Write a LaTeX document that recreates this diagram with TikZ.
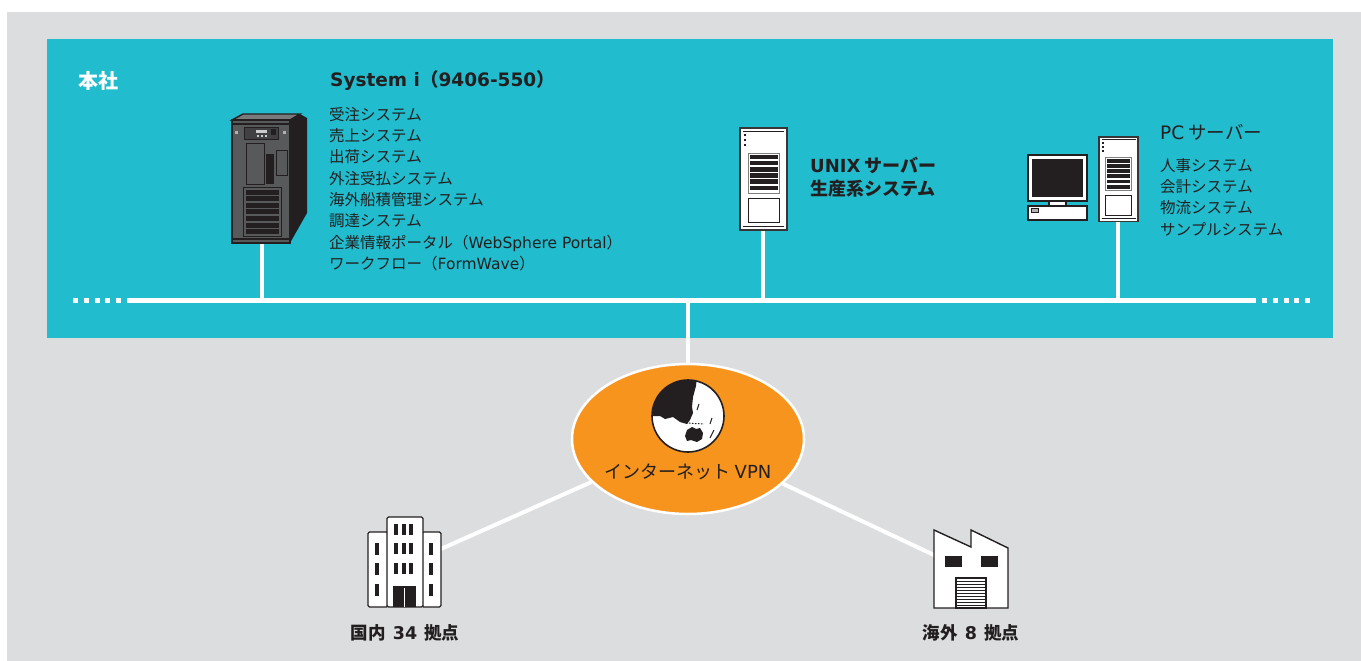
\documentclass[tikz,border=0pt]{standalone}
\usepackage{fontspec}
\setmainfont{Noto Sans CJK JP}
\newfontfamily\latinfont{DejaVu Sans}
\newcommand{\eng}[1]{{\latinfont #1}}
\usetikzlibrary{positioning,shapes.geometric}

\definecolor{bggray}{HTML}{DCDDDF}
\definecolor{hqteal}{HTML}{21BCCD}
\definecolor{vpnorange}{HTML}{F7941D}
\definecolor{ink}{HTML}{231F20}
\definecolor{casegray}{HTML}{58595B}
\definecolor{panelgray}{HTML}{414042}

\tikzset{
    wire/.style={white, line width=4.5pt},
    bus dots/.style={white, line width=5pt, dash pattern=on 5pt off 5.8pt},
    outline/.style={draw=ink, line width=1.4pt},
    txt/.style={ink, inner sep=0pt, align=left},
    heading/.style={txt, font=\bfseries\fontsize{18.5}{22}\selectfont},
    subhead/.style={txt, font=\bfseries\fontsize{18}{23}\selectfont},
    items/.style={txt, font=\fontsize{15.5}{21.3}\selectfont},
    site/.style={txt, font=\bfseries\fontsize{17.5}{19}\selectfont}
}

% tower server, #1 = top left corner, #2 = scale
\newcommand{\towericon}[2]{%
  \begin{scope}[shift={#1}, scale=#2]
    \draw[fill=white, draw=ink!90, line width=1.6pt] (0,0) rectangle (47,102);
    \draw[ink, line width=1pt] (3,3.5) -- (44,3.5) (3,98.5) -- (44,98.5);
    \foreach \y in {5.5,10.5,15.5}
      \fill[ink] (3.5,\y) rectangle ++(2.8,2.8);
    \draw[draw=gray, line width=1pt, fill=white] (8,25) rectangle (39,65);
    \foreach \k in {0,...,5}
      \fill[ink] (9.5,26.5+6.2*\k) rectangle ++(28,4.6);
    \draw[ink, line width=1pt] (8,70) rectangle (39,94);
  \end{scope}}

\begin{document}
\begin{tikzpicture}[x=1pt,y=-1pt]
\useasboundingbox (0,0) rectangle (1361,661);
\fill[bggray] (7,12) rectangle (1361,661);
\fill[hqteal] (47,39) rectangle (1333,338);

% LAN backbone
\coordinate (busL) at (127,300);
\coordinate (busR) at (1256,300);
\coordinate (dotsL) at (73,300);
\coordinate (dotsR) at (1311,300);
\coordinate (busjoin) at (688,300);
\draw[wire, line width=5pt] (busL) -- (busR);
\draw[bus dots] (dotsL) -- (busL);
\draw[bus dots] (1262,300) -- (dotsR);

% drops to the servers
\coordinate (sysi) at (262,243);
\coordinate (unix) at (763,230);
\coordinate (pcsrv) at (1118,220);
\draw[wire] (sysi) -- (sysi |- busL);
\draw[wire] (unix) -- (unix |- busL);
\draw[wire] (pcsrv) -- (pcsrv |- busL);

% internet VPN
\node[ellipse, fill=vpnorange, draw=white, line width=2.5pt,
      minimum width=232pt, minimum height=150pt] (vpn) at (688,439) {};
\draw[wire] (busjoin) -- (vpn.north);
\coordinate (kokunai) at (405,565);
\coordinate (kaigai) at (970,572);
\draw[wire, line width=4pt] (vpn) -- (kokunai);
\draw[wire, line width=4pt] (vpn) -- (kaigai);

% globe
\begin{scope}[shift={(688,416)}]
  \fill[white] (0,0) circle (36);
  \begin{scope}
    \clip (0,0) circle (36);
    \fill[ink] (-40,-40) -- (9,-40) -- (8,-30) -- (5,-19) -- (4,-9) -- (5,-3)
      -- (2,4) -- (-1,8) -- (-8,6) -- (-15,1) -- (-23,3) -- (-28,0)
      -- (-40,0) -- cycle;
    \fill[ink] (-1,14) -- (4,11) -- (8,13) -- (12,12) -- (15,17) -- (14,23)
      -- (9,26) -- (3,24) -- (-1,25) -- (-3,20) -- cycle;
    \draw[ink, line width=1pt, dash pattern=on 1.5pt off 1.5pt] (-2,7) -- (16,8);
    \draw[ink, line width=1pt] (24,2) -- (22,8) (11,-12) -- (9,-6)
      (26,14) -- (22,22);
  \end{scope}
  \draw[ink, line width=1.6pt] (0,0) circle (36);
\end{scope}
\node[txt, font=\fontsize{18}{20}\selectfont] (vpnlabel) at (688,472) {インターネット \eng{VPN}};

% System i
\fill[ink] (290,120) -- (300,114) -- (307,118) -- (307,213) -- (290,243) -- cycle;
\draw[outline, fill=casegray!80] (232,120) -- (243,114) -- (300,114) -- (290,120) -- cycle;
\draw[outline, fill=casegray] (232,120) rectangle (290,243);
\fill[ink] (233,122.5) rectangle (289,124.5);
\fill[ink] (233,237.5) rectangle (289,239.5);
\draw[outline, line width=1pt, fill=panelgray] (244,127) rectangle (278,139);
\fill[gray!40] (256,129.5) rectangle (267,133);
\foreach \x in {257,261,265} \fill[gray!40] (\x,135) rectangle ++(2,2);
\fill[ink] (271,129) rectangle (276,135);
\fill[gray!60] (235,131) rectangle ++(3,3);
\fill[gray!60] (283,131) rectangle ++(3,3);
\draw[outline, line width=1pt] (246,143) rectangle (264,184);
\fill[ink] (266,154) rectangle (274,184);
\draw[outline, line width=1pt] (276,150) rectangle (287,175);
\draw[outline, line width=1pt] (243,187) rectangle (281,236);
\foreach \k in {0,...,6}
  \fill[ink] (245.5,189.5+6.6*\k) rectangle ++(33,5);

% UNIX and PC servers
\towericon{(740,128)}{1}
\towericon{(1099,137)}{0.83}
\draw[outline, fill=white] (1028,155) rectangle (1087,201);
\fill[ink] (1032,159) rectangle (1083,197);
\draw[outline, fill=white] (1049,201) rectangle (1066,206);
\draw[outline, fill=white] (1028,206) rectangle (1087,220);
\draw[ink, line width=1pt, fill=gray!60] (1031,208) rectangle (1038,212);

% office building
\begin{scope}[outline, fill=white, rounded corners=1.5pt]
  \draw[fill=white] (368,532) rectangle (388,607);
  \draw[fill=white] (422,532) rectangle (441,607);
  \draw[fill=white] (387,517) rectangle (423,607);
\end{scope}
\foreach \x in {394,401.5,409}
  \foreach \y in {524,543,563}
    \fill[ink] (\x,\y) rectangle ++(4,11);
\foreach \y in {543,563,584} {
  \fill[ink] (375,\y) rectangle ++(4,12);
  \fill[ink] (429,\y) rectangle ++(4,12);
}
\fill[ink] (393,586) rectangle (416,607);
\draw[white, line width=1pt] (404.5,588) -- (404.5,607);

% factory
\draw[outline, fill=white] (934,530) -- (971,547) -- (971,530) -- (1008,548)
  -- (1008,608) -- (934,608) -- cycle;
\fill[ink] (945,556) rectangle (962,567);
\fill[ink] (981,556) rectangle (998,567);
\draw[outline, line width=1.2pt, fill=white] (956,578) rectangle (986,608);
\foreach \y in {581,584,...,605}
  \draw[ink, line width=0.8pt] (956,\y) -- (986,\y);

% texts
\node[txt, white, font=\bfseries\fontsize{20}{22}\selectfont, anchor=west] (hq) at (78,81) {本社};
\node[heading, anchor=west] (sysititle) at (330,81) {\eng{System i}（\eng{9406-550}）};
\node[items, anchor=north west] (sysilist) at (329,107) {受注システム\\売上システム\\出荷システム\\外注受払システム\\海外船積管理システム\\調達システム\\企業情報ポータル（\eng{WebSphere Portal}）\\ワークフロー（\eng{FormWave}）};
\node[subhead, anchor=north west] (unixtitle) at (810,157) {\eng{UNIX} サーバー\\生産系システム};
\node[txt, font=\fontsize{18.5}{22}\selectfont, anchor=west] (pctitle) at (1160,132) {\eng{PC} サーバー};
\node[items, anchor=north west] (pclist) at (1160,158) {人事システム\\会計システム\\物流システム\\サンプルシステム};
\node[site] (kokunailabel) at (405,633) {国内\hspace{7pt}\eng{34}\hspace{7pt}拠点};
\node[site] (kaigailabel) at (971,633) {海外\hspace{7pt}\eng{8}\hspace{7pt}拠点};
\end{tikzpicture}
\end{document}
